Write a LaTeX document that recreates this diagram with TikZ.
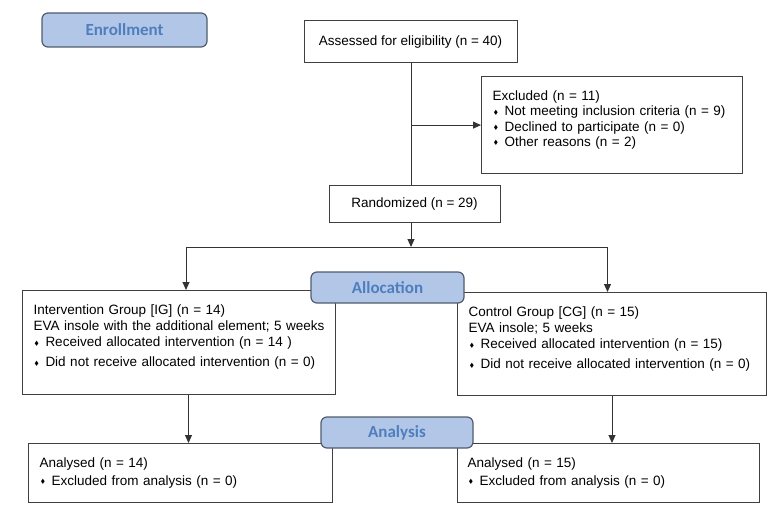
\documentclass[tikz,border=0pt]{standalone}
\usepackage{fontspec}
\usepackage{amssymb}
\setmainfont{Liberation Sans}
\newfontfamily\stagefont{Carlito}
\usetikzlibrary{arrows.meta,positioning}

\definecolor{stagefill}{HTML}{B2C7E8}
\definecolor{stagedraw}{HTML}{505C6C}
\definecolor{stagetext}{HTML}{4F7EBE}

% small diamond bullet in front of list lines
\newcommand{\itm}{\hspace*{1pt}\makebox[11pt][l]{\raisebox{1.5pt}{\fontsize{6}{6}\selectfont$\blacklozenge$}}}

\tikzset{
  flowbox/.style={draw=black!75, line width=1pt, fill=white, align=left,
    inner xsep=11pt, inner ysep=14pt, anchor=north west,
    font=\fontsize{13.5}{16.3}\selectfont},
  midbox/.style={draw=black!75, line width=1pt, fill=white, align=center,
    inner sep=0pt, font=\fontsize{13.5}{16.3}\selectfont},
  stagebox/.style={draw=stagedraw, line width=1.2pt, fill=stagefill,
    rounded corners=6pt, inner sep=0pt, text=stagetext,
    font=\stagefont\bfseries\fontsize{17}{20}\selectfont},
  flow/.style={draw=black!80, line width=1pt},
  flowarrow/.style={flow, -{Triangle[length=8pt,width=7pt]}}
}

\begin{document}
\begin{tikzpicture}[x=1pt, y=-1pt]

  \useasboundingbox (0,0) rectangle (781,513);

  % enrollment
  \node[midbox, minimum width=213pt, minimum height=42pt] (assess) at (410.5,42)
    {Assessed for eligibility (n = 40)};
  \node[flowbox, text width=239pt, text depth=59.4pt, font=\fontsize{13.5}{15.4}\selectfont] (excl) at (481,76)
    {Excluded (n = 11)\\
     \itm Not meeting inclusion criteria (n = 9)\\
     \itm Declined to participate (n = 0)\\
     \itm Other reasons (n = 2)};
  \node[midbox, minimum width=171pt, minimum height=36pt] (rand) at (414.5,204)
    {Randomized (n = 29)};

  % allocation
  \node[flowbox, text width=291pt, text depth=66.4pt] (ig) at (22,290)
    {Intervention Group [IG] (n = 14)\\
     EVA insole with the additional element; 5 weeks\\
     \itm Received allocated intervention (n = 14 )\\[3.7pt]
     \itm Did not receive allocated intervention (n = 0)};
  \node[flowbox, text width=287pt, text depth=65.4pt] (cg) at (457,292)
    {Control Group [CG] (n = 15)\\
     EVA insole; 5 weeks\\
     \itm Received allocated intervention (n = 15)\\[3.7pt]
     \itm Did not receive allocated intervention (n = 0)};

  % analysis
  \node[flowbox, text width=282pt, font=\fontsize{13.5}{18}\selectfont] (an1) at (28,443)
    {Analysed (n = 14)\\
     \itm Excluded from analysis (n = 0)};
  \node[flowbox, text width=282pt, inner xsep=10pt, font=\fontsize{13.5}{18}\selectfont] (an2) at (457,443)
    {Analysed (n = 15)\\
     \itm Excluded from analysis (n = 0)};

  % connectors
  \coordinate (fork) at (411,247);
  \coordinate (igin) at ([xshift=7pt]ig.north);
  \coordinate (cgin) at ([xshift=-4.5pt]cg.north);
  \coordinate (igout) at ([xshift=9.5pt]ig.south);
  \draw[flow] (assess.south -| fork) -- (rand.north -| fork);
  \draw[flowarrow] (excl.west -| fork) -- (excl.west);
  \draw[flowarrow] (rand.south -| fork) -- (fork);
  \draw[flowarrow] (fork) -| (igin);
  \draw[flowarrow] (fork) -| (cgin);
  \draw[flowarrow] (igout) -- (igout |- an1.north);
  \draw[flowarrow] (cg.south) -- (cg.south |- an2.north);

  % stage labels on top
  \node[stagebox, minimum width=165pt, minimum height=34pt] (enrol) at (124.5,30) {Enrollment};
  \node[stagebox, minimum width=153pt, minimum height=31pt] (alloc) at (387.5,287.5) {Allocation};
  \node[stagebox, minimum width=152pt, minimum height=31pt] (analy) at (397,432.5) {Analysis};

\end{tikzpicture}
\end{document}
